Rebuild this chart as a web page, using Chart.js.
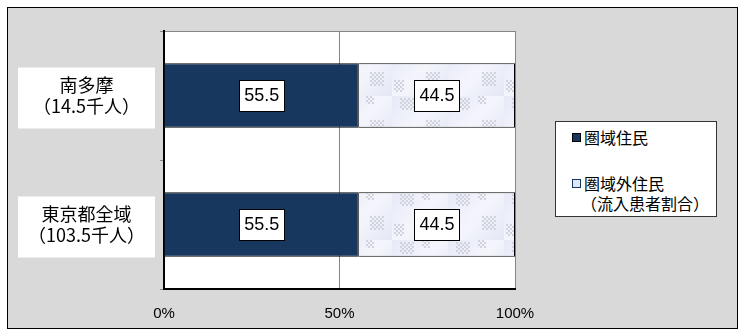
<!DOCTYPE html>
<html>
<head>
<meta charset="utf-8">
<script src="https://cdn.jsdelivr.net/npm/chart.js@4"></script>
<style>
  html, body { margin: 0; padding: 0; background: #fff; }
  #wrap { position: relative; width: 746px; height: 336px; }
  #frame { position: absolute; left: 7px; top: 7px; width: 729px; height: 320px;
           background: #d9d9d9; border: 1px solid #000; }
  #chart { position: absolute; left: 0; top: 0; }
  #legend { position: absolute; left: 555px; top: 121px; width: 160px; height: 94px;
            background: #fff; border: 1px solid #333;
            font-family: "Noto Sans CJK JP", sans-serif; font-size: 16px; color: #000; }
  .item { position: absolute; left: 16px; line-height: 20px; }
  .sw { display: inline-block; width: 7px; height: 7px; border: 1px solid #000;
        margin-right: 3px; vertical-align: 2px; }
</style>
</head>
<body>
<div id="wrap">
  <div id="frame"></div>
  <canvas id="chart" width="746" height="336"></canvas>
  <div id="legend">
    <div class="item" style="top:5px"><span class="sw" style="background:#17375e"></span>圏域住民</div>
    <div class="item" style="top:51px"><span class="sw" style="background:#dfe6f7;border-color:#17375e"></span>圏域外住民<br><span style="padding-left:9px">（流入患者割合）</span></div>
  </div>
</div>
<script>
// data
const categories = [['南多摩', '（14.5千人）'], ['東京都全域', '（103.5千人）']]
const residents = [55.5, 55.5]
const outsiders = [44.5, 44.5]
const seriesNames = ['圏域住民', '圏域外住民（流入患者割合）']
const xTicks = [0, 50, 100]

const jpFont = '"Noto Sans CJK JP", sans-serif'

// texture-ish fill for the second series
function makePattern() {
  const c = document.createElement('canvas')
  c.width = 56
  c.height = 48
  const g = c.getContext('2d')
  const grad = g.createLinearGradient(0, 0, 56, 48)
  grad.addColorStop(0, '#e6e9f7')
  grad.addColorStop(0.5, '#f4f5fc')
  grad.addColorStop(1, '#e4e8f5')
  g.fillStyle = grad
  g.fillRect(0, 0, 56, 48)
  const blocks = [[8, 2, 14, 12], [34, 24, 14, 14], [2, 32, 10, 12], [30, 0, 8, 8]]
  g.fillStyle = '#d0d2dc'
  blocks.forEach(([bx, by, bw, bh]) => {
    for (let x = bx; x < bx + bw; x += 2) {
      for (let y = by; y < by + bh; y += 2) {
        if (((x - bx) / 2 + (y - by) / 2) % 2 === 0) g.fillRect(x, y, 2, 2)
      }
    }
  })
  return g.createPattern(c, 'repeat')
}

const framePlugin = {
  id: 'frame',
  beforeDraw(chart) {
    const { ctx, chartArea: a, scales } = chart
    ctx.save()
    ctx.fillStyle = '#fff'
    ctx.fillRect(a.left, a.top, a.right - a.left, a.bottom - a.top)
    ctx.strokeStyle = '#868686'
    ctx.lineWidth = 1
    ctx.beginPath()
    ctx.moveTo(a.left, a.top + 0.5)
    ctx.lineTo(a.right, a.top + 0.5)
    ctx.stroke()
    // white boxes behind the category labels
    const y = scales.y
    ctx.fillStyle = '#fff'
    categories.forEach((_, i) => {
      const py = y.getPixelForValue(i)
      ctx.fillRect(18, py - 28, 137, 61)
    })
    ctx.restore()
  }
}

const valueLabels = {
  id: 'valueLabels',
  afterDatasetsDraw(chart) {
    const { ctx } = chart
    ctx.save()
    ctx.font = '18px "Liberation Sans", Arial, sans-serif'
    ctx.textAlign = 'center'
    ctx.textBaseline = 'middle'
    chart.data.datasets.forEach((ds, di) => {
      chart.getDatasetMeta(di).data.forEach((bar, i) => {
        const cx = (bar.x + bar.base) / 2
        const cy = bar.y
        const w = 45, h = 31
        const bx = Math.round(cx - w / 2) + 0.5
        const by = Math.round(cy - h / 2) + 0.5
        ctx.fillStyle = '#fff'
        ctx.fillRect(bx, by, w, h)
        ctx.strokeStyle = '#000'
        ctx.lineWidth = 1
        ctx.strokeRect(bx, by, w, h)
        ctx.fillStyle = '#000'
        ctx.fillText(ds.data[i].toFixed(1), cx, cy + 1)
      })
    })
    ctx.restore()
  }
}

const ctx = document.getElementById('chart').getContext('2d')
new Chart(ctx, {
  type: 'bar',
  data: {
    labels: categories,
    datasets: [{
      label: seriesNames[0],
      data: residents,
      backgroundColor: '#17375e',
      borderColor: '#000',
      borderWidth: 1,
      barPercentage: 1,
      categoryPercentage: 0.5
    }, {
      label: seriesNames[1],
      data: outsiders,
      backgroundColor: makePattern(),
      borderColor: '#000',
      borderWidth: 1,
      barPercentage: 1,
      categoryPercentage: 0.5
    }]
  },
  options: {
    indexAxis: 'y',
    responsive: false,
    animation: false,
    events: [],
    layout: { padding: { left: 0, top: 31, right: 231, bottom: 0 } },
    plugins: {
      legend: { display: false },
      tooltip: { enabled: false }
    },
    scales: {
      x: {
        stacked: true,
        min: 0,
        max: 100,
        afterBuildTicks: (scale) => { scale.ticks = xTicks.map(v => ({ value: v })) },
        afterFit: (scale) => {
          scale.height = 47
          scale.paddingLeft = 0
          scale.paddingRight = 0
        },
        grid: { color: '#868686', tickLength: 0 },
        border: { color: '#000', width: 2 },
        ticks: {
          padding: 16,
          color: '#000',
          font: { family: '"Liberation Sans", Arial, sans-serif', size: 15 },
          callback: (v) => v + '%'
        }
      },
      y: {
        stacked: true,
        afterFit: (scale) => {
          scale.width = 164
          scale.paddingTop = 0
          scale.paddingBottom = 0
        },
        grid: { offset: true, drawOnChartArea: false, tickLength: 4, color: '#868686' },
        border: { color: '#000', width: 2 },
        ticks: {
          crossAlign: 'center',
          padding: 15,
          color: '#000',
          font: { family: jpFont, size: 18, lineHeight: 1.15 }
        }
      }
    }
  },
  plugins: [framePlugin, valueLabels]
})
</script>
</body>
</html>
